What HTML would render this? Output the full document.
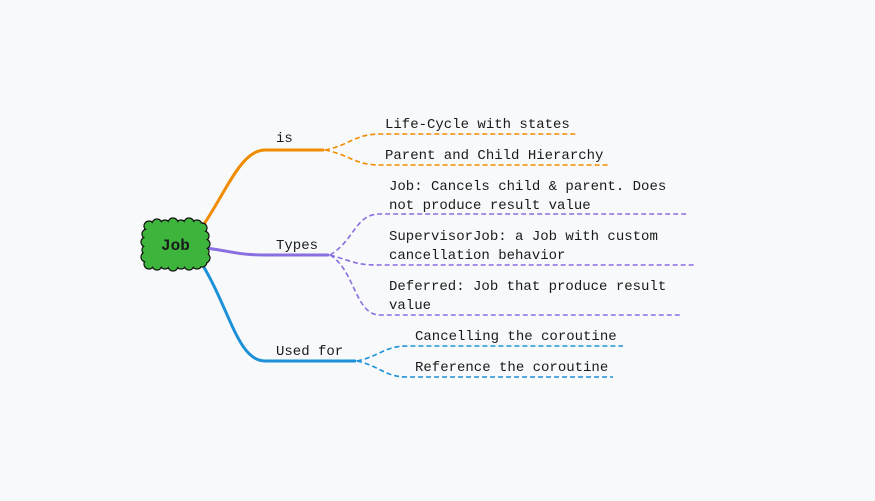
<!DOCTYPE html>
<html><head><meta charset="utf-8"><style>
html,body{margin:0;padding:0;background:#f8f9fb;}
svg{display:block}
text{font-family:"Liberation Mono",monospace;font-size:14px;fill:#1a1a1a;}
</style></head><body>
<svg width="875" height="501" viewBox="0 0 875 501" xmlns="http://www.w3.org/2000/svg">
<rect width="875" height="501" fill="#f8f9fb"/>
<g fill="none" stroke-width="3" stroke-linecap="round">
<path d="M200,230 C225,195 240,150 265,150 L323,150" stroke="#f08c00"/>
<path d="M206,248 C235,252 240,255 265,255 L328,255" stroke="#8a6fe0"/>
<path d="M202,264 C230,310 238,361 265,361 L355,361" stroke="#1c90d8"/>
</g>
<g fill="none" stroke-width="1.6" stroke-dasharray="5,3">
<path d="M325,150 C350,145 355,134 380,134 L577,134" stroke="#f08c00"/>
<path d="M325,150 C350,155 355,165 380,165 L608,165" stroke="#f08c00"/>
<path d="M330,255 C355,240 355,214 380,214 L689,214" stroke="#8a6fe0"/>
<path d="M330,255 C355,262 355,265 380,265 L695,265" stroke="#8a6fe0"/>
<path d="M330,255 C355,270 355,315 380,315 L681,315" stroke="#8a6fe0"/>
<path d="M357,361 C380,356 385,346 407,346 L623,346" stroke="#1c90d8"/>
<path d="M357,361 C380,366 385,377 407,377 L613,377" stroke="#1c90d8"/>
</g>
<g id="cloud">
<g fill="#3db53d" stroke="#111" stroke-width="1.2">
<circle cx="149" cy="226" r="5"/><circle cx="157" cy="224" r="5"/><circle cx="165" cy="225" r="5"/><circle cx="173" cy="223" r="5"/><circle cx="181" cy="225" r="5"/><circle cx="189" cy="223" r="5"/><circle cx="197" cy="225" r="5"/><circle cx="202" cy="228" r="5"/>
<circle cx="149" cy="264" r="5"/><circle cx="157" cy="265" r="5"/><circle cx="165" cy="264" r="5"/><circle cx="173" cy="266" r="5"/><circle cx="181" cy="264" r="5"/><circle cx="189" cy="265" r="5"/><circle cx="197" cy="264" r="5"/><circle cx="202" cy="262" r="5"/>
<circle cx="147" cy="234" r="5"/><circle cx="146" cy="242" r="5"/><circle cx="147" cy="250" r="5"/><circle cx="146" cy="257" r="5"/>
<circle cx="204" cy="236" r="5"/><circle cx="205" cy="244" r="5"/><circle cx="204" cy="252" r="5"/><circle cx="205" cy="258" r="5"/>
</g>
<g fill="#3db53d">
<circle cx="149" cy="226" r="4.3"/><circle cx="157" cy="224" r="4.3"/><circle cx="165" cy="225" r="4.3"/><circle cx="173" cy="223" r="4.3"/><circle cx="181" cy="225" r="4.3"/><circle cx="189" cy="223" r="4.3"/><circle cx="197" cy="225" r="4.3"/><circle cx="202" cy="228" r="4.3"/>
<circle cx="149" cy="264" r="4.3"/><circle cx="157" cy="265" r="4.3"/><circle cx="165" cy="264" r="4.3"/><circle cx="173" cy="266" r="4.3"/><circle cx="181" cy="264" r="4.3"/><circle cx="189" cy="265" r="4.3"/><circle cx="197" cy="264" r="4.3"/><circle cx="202" cy="262" r="4.3"/>
<circle cx="147" cy="234" r="4.3"/><circle cx="146" cy="242" r="4.3"/><circle cx="147" cy="250" r="4.3"/><circle cx="146" cy="257" r="4.3"/>
<circle cx="204" cy="236" r="4.3"/><circle cx="205" cy="244" r="4.3"/><circle cx="204" cy="252" r="4.3"/><circle cx="205" cy="258" r="4.3"/>
<rect x="148" y="225" width="56" height="40"/>
</g>
</g>
<text x="161" y="250" style="font-size:16px;font-weight:bold">Job</text>
<text x="276" y="142">is</text>
<text x="276" y="249">Types</text>
<text x="276" y="355">Used for</text>
<text x="385" y="128">Life-Cycle with states</text>
<text x="385" y="159">Parent and Child Hierarchy</text>
<text x="389" y="190">Job: Cancels child &amp; parent. Does</text>
<text x="389" y="209">not produce result value</text>
<text x="389" y="240">SupervisorJob: a Job with custom</text>
<text x="389" y="259">cancellation behavior</text>
<text x="389" y="290">Deferred: Job that produce result</text>
<text x="389" y="309">value</text>
<text x="415" y="340">Cancelling the coroutine</text>
<text x="415" y="371">Reference the coroutine</text>
</svg>
</body></html>
